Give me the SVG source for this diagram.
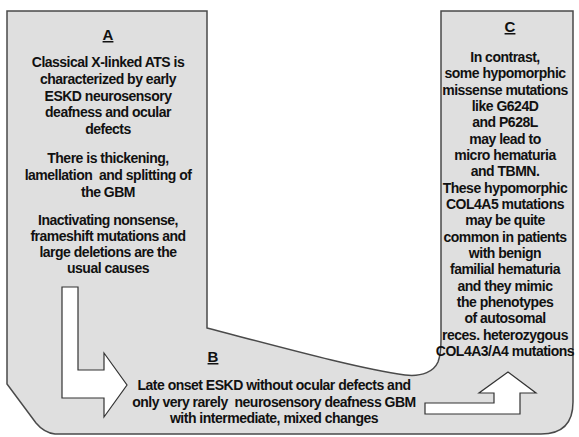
<svg xmlns="http://www.w3.org/2000/svg" width="579" height="437" viewBox="0 0 579 437">
<style>
.t{font-family:"Liberation Sans",Arial,sans-serif;font-weight:bold;font-size:14px;fill:#111;text-anchor:middle;letter-spacing:-0.5px}
.h{font-family:"Liberation Sans",Arial,sans-serif;font-weight:bold;font-size:15px;fill:#111;text-anchor:middle;text-decoration:underline}
.arrow{fill:#fff;stroke:#333;stroke-width:1.2;stroke-linejoin:miter}
</style>
<rect width="579" height="437" fill="#fff"/>
<g id="background">
<path d="M7,11 H207 V328 C280,347 360,369 405,375 C423,377 434,371 438,362 C441,354 441,348 441,340 V11 H573 V402 Q573,434 541,434 H55 C46,433 41,429 36,423 L7,384 Z" fill="#dfdfdf" stroke="#4a4a4a" stroke-width="1.5"/>
</g>
<g id="node-A">
<text class="h" x="108" y="40">A</text>
<text class="t" x="108" y="67">Classical X-linked ATS is</text>
<text class="t" x="108" y="84">characterized by early</text>
<text class="t" x="108" y="101">ESKD neurosensory</text>
<text class="t" x="108" y="117">deafness and ocular</text>
<text class="t" x="108" y="134">defects</text>
<text class="t" x="108" y="163">There is thickening,</text>
<text class="t" x="108" y="180" xml:space="preserve">lamellation  and splitting of</text>
<text class="t" x="108" y="197">the GBM</text>
<text class="t" x="108" y="225">Inactivating nonsense,</text>
<text class="t" x="108" y="241">frameshift mutations and</text>
<text class="t" x="108" y="257">large deletions are the</text>
<text class="t" x="108" y="273">usual causes</text>
</g>
<g id="node-B">
<text class="h" x="213" y="362">B</text>
<text class="t" x="274" y="390">Late onset ESKD without ocular defects and</text>
<text class="t" x="274" y="407" xml:space="preserve">only very rarely  neurosensory deafness GBM</text>
<text class="t" x="274" y="423">with intermediate, mixed changes</text>
</g>
<g id="node-C">
<text class="h" x="510" y="32">C</text>
<text class="t" x="505" y="62">In contrast,</text>
<text class="t" x="505" y="78.3">some hypomorphic</text>
<text class="t" x="505" y="94.7">missense mutations</text>
<text class="t" x="505" y="111">like G624D</text>
<text class="t" x="505" y="127.3">and P628L</text>
<text class="t" x="505" y="143.7">may lead to</text>
<text class="t" x="505" y="160">micro hematuria</text>
<text class="t" x="505" y="176.3">and TBMN.</text>
<text class="t" x="505" y="192.7">These hypomorphic</text>
<text class="t" x="505" y="209">COL4A5 mutations</text>
<text class="t" x="505" y="225.3">may be quite</text>
<text class="t" x="505" y="241.7">common in patients</text>
<text class="t" x="505" y="258">with benign</text>
<text class="t" x="505" y="274.3">familial hematuria</text>
<text class="t" x="505" y="290.7">and they mimic</text>
<text class="t" x="505" y="307">the phenotypes</text>
<text class="t" x="505" y="323.3">of autosomal</text>
<text class="t" x="505" y="339.7">reces. heterozygous</text>
<text class="t" x="505" y="356">COL4A3/A4 mutations</text>
</g>
<g id="connectors">
<polygon id="arrow-A-B" class="arrow" points="62,287 78,287 78,370 104,370 104,353 127,385 104,417 104,398 62,398"/>
<polygon id="arrow-B-C" class="arrow" points="425,403 494,403 494,393 479,393 508,372 536,393 520,393 520,414 425,414"/>
</g>
</svg>
